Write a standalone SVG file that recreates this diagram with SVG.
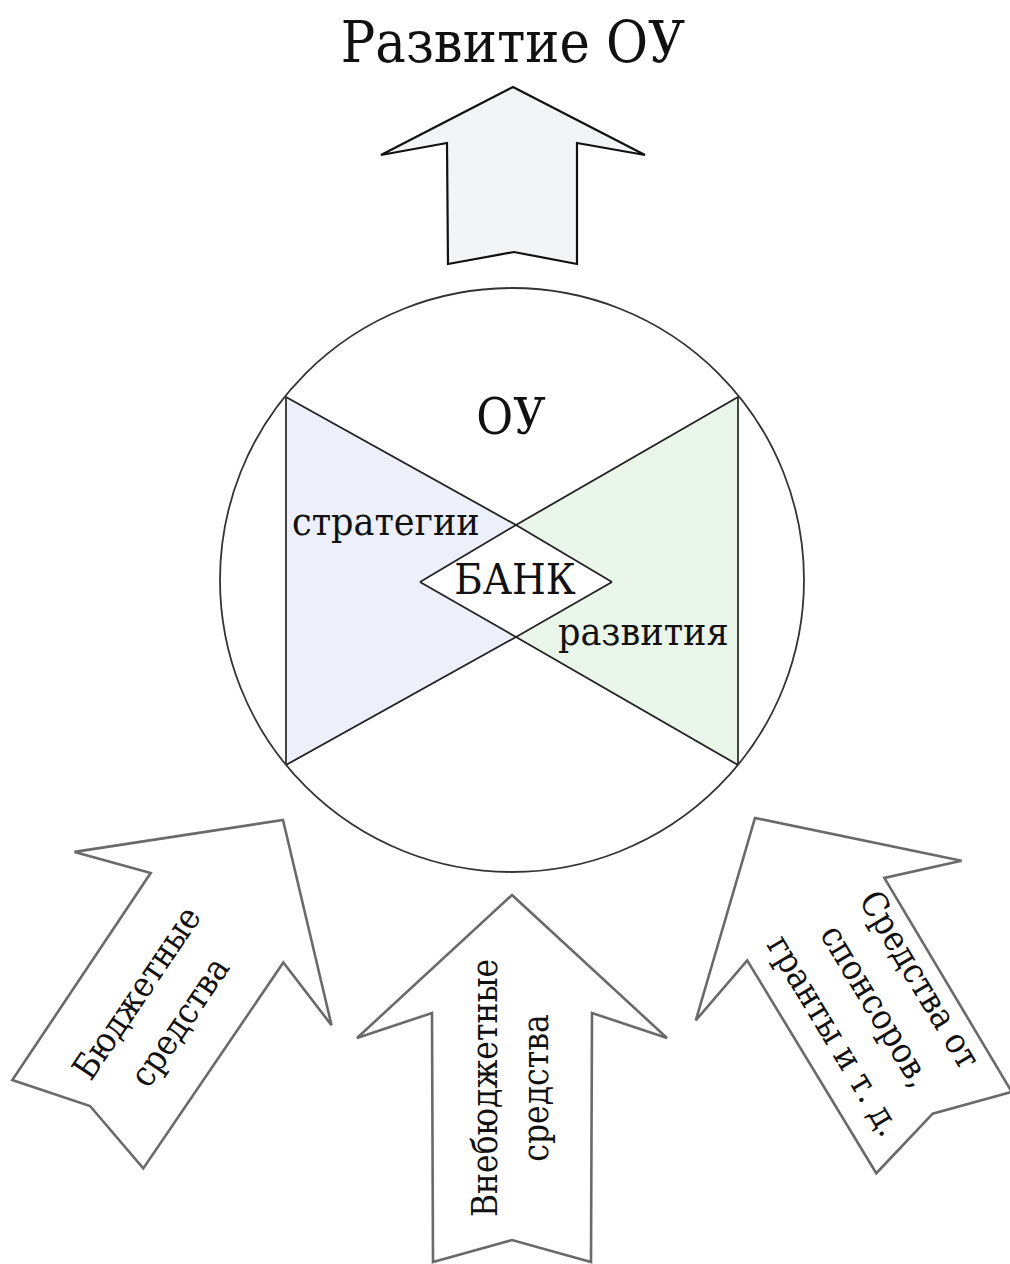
<svg xmlns="http://www.w3.org/2000/svg" width="1010" height="1264" viewBox="0 0 1010 1264">
<style>
  text { font-family: 'DejaVu Serif Condensed', 'DejaVu Serif', serif; font-stretch: condensed; fill: #111; }
  .big-arrow { fill: #f2f5f5; stroke: #111; stroke-width: 2.2; stroke-linejoin: miter; }
  .src-arrow { fill: #ffffff; stroke: #6a6a6a; stroke-width: 2.6; stroke-linejoin: miter; }
  .ring { fill: #ffffff; stroke: #333; stroke-width: 1.8; }
  .xline { fill: none; stroke: #222; stroke-width: 1.8; }
  .vline { stroke: #444; stroke-width: 2; }
  .lbl { font-size: 39px; }
  .src { font-size: 35px; }
</style>
<defs>
  <path id="srcArrowShape" d="M0,0 L155,143 L80,118 L79,367 L0,345 L-79,367 L-80,118 L-155,143 Z"/>
</defs>

<rect width="1010" height="1264" fill="#ffffff"/>

<g id="title">
  <text x="513" y="62" font-size="57" text-anchor="middle">Развитие ОУ</text>
</g>

<g id="connectors">
  <path id="arrow-top" class="big-arrow" d="M513,87 L645,155 L577,143 L577,264 L514,252 L448,264 L447,143 L381,155 Z"/>
</g>

<g id="node-ou">
  <circle class="ring" cx="512" cy="580" r="292"/>
  <polygon fill="#edf0fa" points="286,397 516,525 420,582 516,637 286,765"/>
  <polygon fill="#eaf6ea" points="738,397 516,525 612,582 516,637 738,765"/>
  <polygon fill="#ffffff" points="516,525 612,582 516,637 420,582"/>
  <line class="vline" x1="286" y1="397" x2="286" y2="765"/>
  <line class="vline" x1="738" y1="397" x2="738" y2="765"/>
  <polyline class="xline" points="286,397 516,525 612,582"/>
  <polyline class="xline" points="738,397 516,525 420,582"/>
  <polyline class="xline" points="286,765 516,637 612,582"/>
  <polyline class="xline" points="738,765 516,637 420,582"/>
  <text x="511" y="434" font-size="50" text-anchor="middle">ОУ</text>
  <text class="lbl" x="292" y="535">стратегии</text>
  <text x="515" y="594" font-size="43" text-anchor="middle">БАНК</text>
  <text class="lbl" x="558" y="645">развития</text>
</g>

<g id="arrow-budget">
  <use href="#srcArrowShape" class="src-arrow" transform="translate(283,820) rotate(34)"/>
  <text class="src" text-anchor="middle" transform="translate(168,1014) rotate(-56)"><tspan x="0" y="-26">Бюджетные</tspan><tspan x="0" y="26">средства</tspan></text>
</g>

<g id="arrow-extra">
  <use href="#srcArrowShape" class="src-arrow" transform="translate(512,895)"/>
  <text class="src" text-anchor="middle" transform="translate(522,1088) rotate(-90)"><tspan x="0" y="-25">Внебюджетные</tspan><tspan x="0" y="26">средства</tspan></text>
</g>

<g id="arrow-sponsors">
  <use href="#srcArrowShape" class="src-arrow" transform="translate(755,818) rotate(-31)"/>
  <text class="src" text-anchor="middle" transform="translate(866,1012) rotate(59)"><tspan x="0" y="-51">Средства от</tspan><tspan x="0" y="0">спонсоров,</tspan><tspan x="4" y="51">гранты и т. д.</tspan></text>
</g>
</svg>
